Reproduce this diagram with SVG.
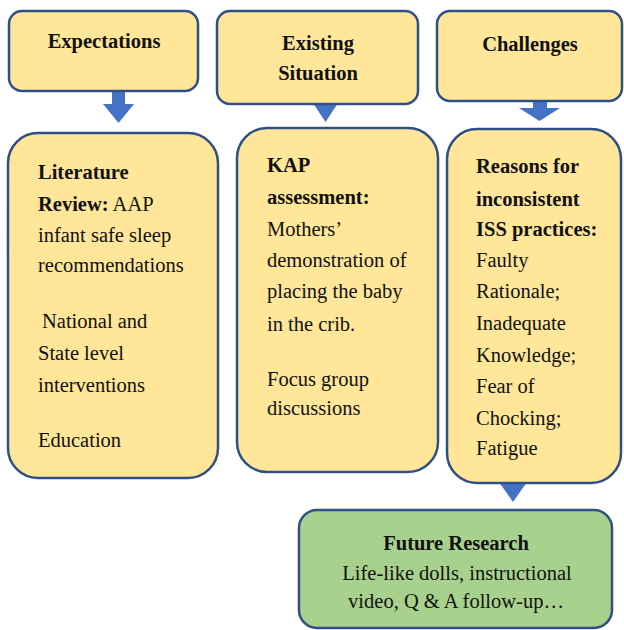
<svg xmlns="http://www.w3.org/2000/svg" width="624" height="630" viewBox="0 0 624 630">
<style>
.box{fill:#FFE699;stroke:#2F4F86;stroke-width:2.5}
.green{fill:#A9D18E;stroke:#2F4F86;stroke-width:2.5}
.arr{fill:#4472C4;stroke:none}
text{font-family:"Liberation Serif","Times New Roman",serif;font-size:20.5px;fill:#111}
.b{font-weight:bold}
.c{text-anchor:middle}
</style>
<rect width="624" height="630" fill="#fff"/>
<g id="connectors">
<rect class="arr" x="112" y="90" width="13" height="15"/>
<polygon class="arr" points="103,104 134,104 118.5,123"/>
<polygon class="arr" points="313,103 338,103 325.5,122"/>
<rect class="arr" x="533" y="100" width="14" height="9"/>
<polygon class="arr" points="519,108 560,108 539.5,121"/>
<polygon class="arr" points="499,482 527,482 513,502"/>
</g>
<g id="expectations">
<rect class="box" x="9" y="11" width="189" height="80" rx="13"/>
<text class="b c" x="104" y="48">Expectations</text>
</g>
<g id="existing">
<rect class="box" x="217" y="11" width="201" height="93" rx="13"/>
<text class="b c" x="318" y="50">Existing</text>
<text class="b c" x="318" y="80">Situation</text>
</g>
<g id="challenges">
<rect class="box" x="437" y="11" width="185" height="90" rx="13"/>
<text class="b c" x="530" y="51">Challenges</text>
</g>
<g id="literature">
<rect class="box" x="8" y="133" width="210" height="345" rx="30"/>
<text class="b" x="38" y="179">Literature</text>
<text x="38" y="211"><tspan class="b">Review:</tspan> AAP</text>
<text x="38" y="242">infant safe sleep</text>
<text x="38" y="272">recommendations</text>
<text x="42" y="328">National and</text>
<text x="38" y="360">State level</text>
<text x="38" y="392">interventions</text>
<text x="38" y="447">Education</text>
</g>
<g id="kap">
<rect class="box" x="237" y="128" width="201" height="344" rx="30"/>
<text class="b" x="267" y="172">KAP</text>
<text class="b" x="267" y="204">assessment:</text>
<text x="267" y="236">Mothers’</text>
<text x="267" y="267">demonstration of</text>
<text x="267" y="298">placing the baby</text>
<text x="267" y="331">in the crib.</text>
<text x="267" y="386">Focus group</text>
<text x="267" y="415">discussions</text>
</g>
<g id="reasons">
<rect class="box" x="447" y="129" width="174" height="354" rx="30"/>
<text class="b" x="476" y="173">Reasons for</text>
<text class="b" x="476" y="206">inconsistent</text>
<text class="b" x="476" y="236">ISS practices:</text>
<text x="476" y="267">Faulty</text>
<text x="476" y="298">Rationale;</text>
<text x="476" y="330">Inadequate</text>
<text x="476" y="362">Knowledge;</text>
<text x="476" y="393">Fear of</text>
<text x="476" y="425">Chocking;</text>
<text x="476" y="455">Fatigue</text>
</g>
<g id="future">
<rect class="green" x="299" y="510" width="313" height="118" rx="18"/>
<text class="b c" x="456" y="550">Future Research</text>
<text class="c" x="457" y="580">Life-like dolls, instructional</text>
<text class="c" x="456" y="608">video, Q &amp; A follow-up…</text>
</g>
</svg>
